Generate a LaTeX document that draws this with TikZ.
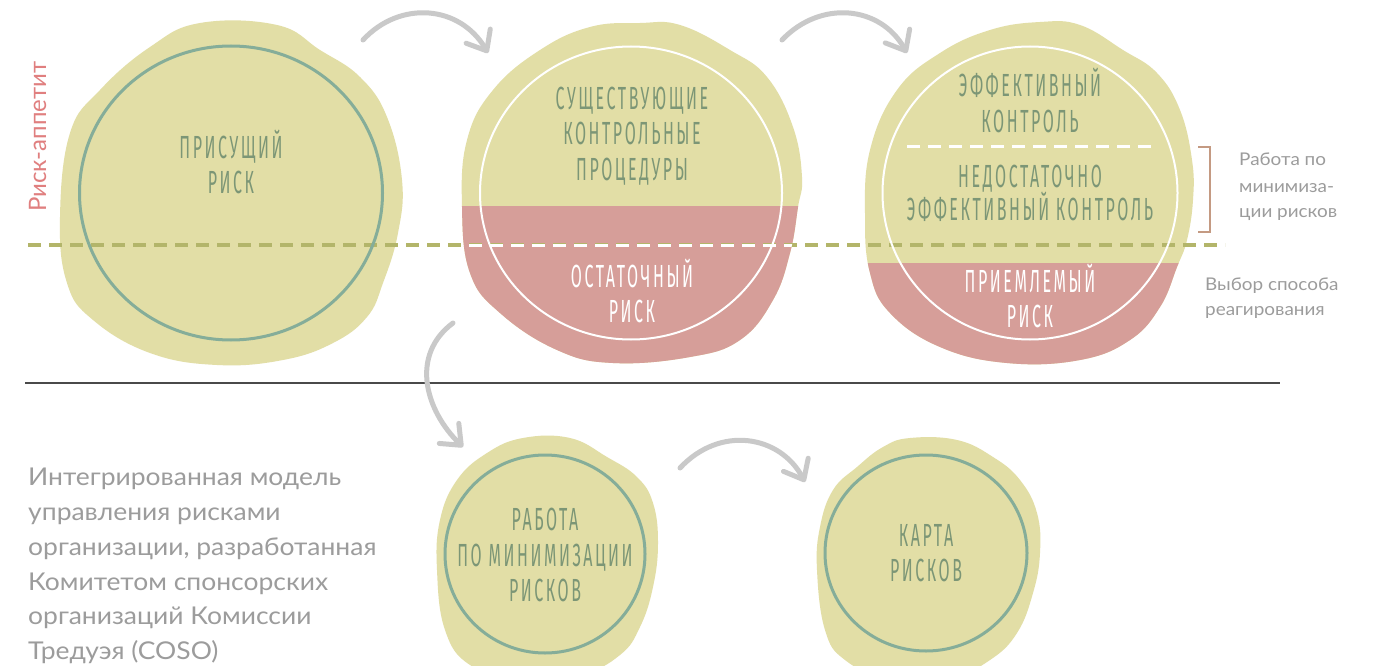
\documentclass[tikz,border=0pt]{standalone}
\usepackage{fontspec}
\usetikzlibrary{shapes.geometric,arrows.meta}
\newfontfamily\disp[FakeStretch=0.5,LetterSpace=8]{Fira Sans}
\newfontfamily\lato{Lato}
\newfontfamily\latow[FakeStretch=1.08]{Lato}
\definecolor{blobY}{HTML}{E2DEA6}
\definecolor{blobP}{HTML}{D69E99}
\definecolor{ringG}{HTML}{85AD99}
\definecolor{tgreen}{HTML}{7C9676}
\definecolor{olive}{HTML}{B3B56A}
\definecolor{arrg}{HTML}{C9C9C9}
\definecolor{brk}{HTML}{C49A82}
\definecolor{appet}{HTML}{E07F7F}
\definecolor{gtext}{HTML}{9C9C9C}
\definecolor{rule}{HTML}{4A4A4A}
\def\blobI{plot[smooth cycle,tension=0.7] coordinates {(200,23) (277,25) (320,50) (360,77) (387,117) (402,180) (398,233) (383,283) (367,317) (333,343) (283,360) (217,365) (150,353) (93,320) (67,283) (60,217) (70,133) (100,90) (150,47)}}
\def\blobII{plot[smooth cycle,tension=0.7] coordinates {(640,23) (680,25) (730,50) (767,77) (793,127) (802,177) (798,207) (790,253) (773,300) (740,340) (690,357) (613,363) (557,350) (500,313) (470,273) (462,207) (467,140) (493,90) (540,50) (590,27)}}
\def\blobIII{plot[smooth cycle,tension=0.7] coordinates {(1040,22) (1080,25) (1123,50) (1157,73) (1180,110) (1192,160) (1193,200) (1187,240) (1177,267) (1160,307) (1130,340) (1080,360) (1007,363) (940,347) (890,313) (870,273) (865,217) (870,150) (897,90) (940,53) (990,30)}}
\def\blobA{plot[smooth cycle,tension=0.7] coordinates {(523,438) (570,438) (607,457) (637,477) (653,503) (658,543) (653,587) (640,627) (620,655) (580,675) (520,680) (470,665) (445,630) (437,570) (440,520) (457,480) (487,453)}}
\def\blobB{plot[smooth cycle,tension=0.7] coordinates {(910,438) (957,440) (993,457) (1020,480) (1037,513) (1040,553) (1033,593) (1017,633) (990,660) (950,678) (890,680) (845,660) (825,630) (817,570) (820,527) (833,490) (857,467) (883,447)}}
\begin{document}
\begin{tikzpicture}[x=1pt,y=-1pt,
  ring/.style={ellipse,draw=ringG,line width=3pt,inner sep=0pt},
  wring/.style={ellipse,draw=white,line width=2pt,inner sep=0pt},
  lbl/.style={font=\disp\fontsize{32}{35}\selectfont,text=tgreen,inner sep=0pt,anchor=base},
  wlbl/.style={lbl,text=white},
  gpara/.style={font=\latow\fontsize{24.5}{30}\selectfont,text=gtext,inner sep=0pt,anchor=base west},
  gsmall/.style={font=\latow\fontsize{17.5}{20}\selectfont,text=gtext,inner sep=0pt,anchor=base west},
  arr/.style={draw=arrg,line width=5pt,line cap=round,-{Straight Barb[length=17pt,width=28pt,round]}},
  olivedash/.style={draw=olive,line width=3.5pt,dash pattern=on 13pt off 8pt},
  whitedash/.style={draw=white,line width=3pt,dash pattern=on 13pt off 8pt}]
\useasboundingbox (0,0) rectangle (1373,666);
\fill[white] (0,0) rectangle (1373,666);
% blobs
\fill[blobY] \blobI;
\fill[blobY] \blobII;
\fill[blobY] \blobIII;
\fill[blobY] \blobA;
\fill[blobY] \blobB;
\begin{scope}
  \clip \blobII;
  \fill[blobP] (440,206) rectangle (820,380);
\end{scope}
\begin{scope}
  \clip \blobIII;
  \fill[blobP] (850,263) rectangle (1210,380);
\end{scope}
% risk appetite dashed line
\coordinate (dl) at (28,245);
\coordinate (dr) at (1225,245);
\draw[olivedash] (dl) -- (dr);
\begin{scope}
  \clip \blobII;
  \draw[whitedash] (dl) -- (dr);
\end{scope}
\coordinate (wl) at (907,147);
\coordinate (wr) at (1155,147);
\draw[whitedash] (wl) -- (wr);
% rings
\node[ring,minimum width=303pt,minimum height=294pt] (c1) at (231,193) {};
\node[wring,minimum width=302pt,minimum height=293pt] (c2) at (631,193) {};
\node[wring,minimum width=295pt,minimum height=293pt] (c3) at (1030,193) {};
\node[ring,minimum width=200pt,minimum height=198pt] (c4) at (545,554) {};
\node[ring,minimum width=202pt,minimum height=196pt] (c5) at (926,553) {};
% labels
\node[lbl] (t1a) at (231,158) {ПРИСУЩИЙ};
\node[lbl] (t1b) at (231,193) {РИСК};
\node[lbl] (t2a) at (632,110) {СУЩЕСТВУЮЩИЕ};
\node[lbl] (t2b) at (632,145) {КОНТРОЛЬНЫЕ};
\node[lbl] (t2c) at (632,180) {ПРОЦЕДУРЫ};
\node[wlbl] (t2d) at (632,287) {ОСТАТОЧНЫЙ};
\node[wlbl] (t2e) at (632,322) {РИСК};
\node[lbl] (t3a) at (1030,97) {ЭФФЕКТИВНЫЙ};
\node[lbl] (t3b) at (1030,132) {КОНТРОЛЬ};
\node[lbl] (t3c) at (1030,187) {НЕДОСТАТОЧНО};
\node[lbl] (t3d) at (1030,220) {ЭФФЕКТИВНЫЙ КОНТРОЛЬ};
\node[wlbl] (t3e) at (1030,292) {ПРИЕМЛЕМЫЙ};
\node[wlbl] (t3f) at (1030,327) {РИСК};
\node[lbl] (t4a) at (545,530) {РАБОТА};
\node[lbl] (t4b) at (545,566) {ПО МИНИМИЗАЦИИ};
\node[lbl] (t4c) at (545,601) {РИСКОВ};
\node[lbl] (t5a) at (926,546) {КАРТА};
\node[lbl] (t5b) at (926,581) {РИСКОВ};
% bracket
\coordinate (b1) at (1198,147);
\coordinate (b2) at (1210,147);
\coordinate (b3) at (1210,232);
\coordinate (b4) at (1198,232);
\draw[brk,line width=2pt] (b1) -- (b2) -- (b3) -- (b4);
% side texts
\node[gsmall] (s1) at (1239,165) {Работа по};
\node[gsmall] (s2) at (1239,192) {минимиза-};
\node[gsmall] (s3) at (1239,217) {ции рисков};
\node[gsmall] (s4) at (1205,290) {Выбор способа};
\node[gsmall] (s5) at (1205,315) {реагирования};
\node[font=\lato\fontsize{24}{28}\selectfont,text=appet,inner sep=0pt,anchor=base west,rotate=90] (ra) at (46,212) {Риск-аппетит};
% rule
\coordinate (hl) at (25,383);
\coordinate (hr) at (1280,383);
\draw[rule,line width=2pt] (hl) -- (hr);
% arrows
\coordinate (a1s) at (363,40); \coordinate (a1e) at (488,53);
\coordinate (a2s) at (782,40); \coordinate (a2e) at (907,53);
\coordinate (a3s) at (453,323); \coordinate (a3e) at (463,447);
\coordinate (a4s) at (680,468); \coordinate (a4e) at (805,482);
\draw[arr] (a1s) .. controls (400,0) and (460,5) .. (a1e);
\draw[arr] (a2s) .. controls (820,0) and (880,5) .. (a2e);
\draw[arr] (a3s) .. controls (410,355) and (425,410) .. (a3e);
\draw[arr] (a4s) .. controls (720,425) and (780,435) .. (a4e);
% paragraph
\node[gpara] (p1) at (28,485) {Интегрированная модель};
\node[gpara] (p2) at (28,520) {управления рисками};
\node[gpara] (p3) at (28,555) {организации, разработанная};
\node[gpara] (p4) at (28,590) {Комитетом спонсорских};
\node[gpara] (p5) at (28,624) {организаций Комиссии};
\node[gpara] (p6) at (28,659) {Тредуэя (COSO)};
\end{tikzpicture}
\end{document}
